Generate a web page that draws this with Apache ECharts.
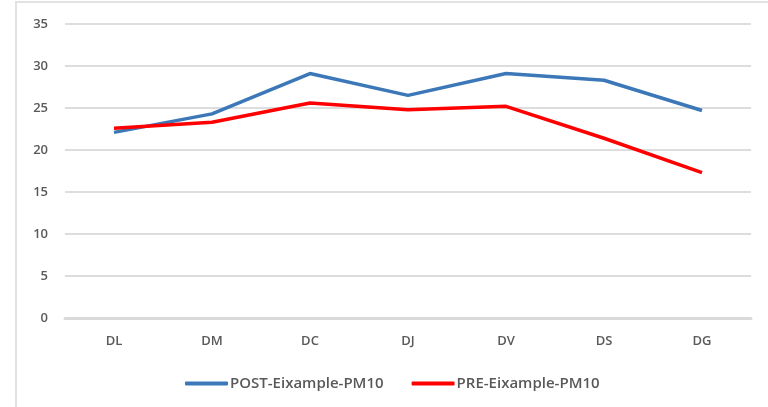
<!DOCTYPE html>
<html>
<head>
<meta charset="utf-8">
<script src="https://cdn.jsdelivr.net/npm/echarts@6/dist/echarts.min.js"></script>
<style>
  html, body { margin: 0; padding: 0; background: #fff; }
  #chart { width: 768px; height: 407px; }
</style>
</head>
<body>
<div id="chart"></div>
<script>
  var categories = ['DL', 'DM', 'DC', 'DJ', 'DV', 'DS', 'DG'];
  var postValues = [22.1, 24.3, 29.1, 26.5, 29.1, 28.3, 24.7];
  var preValues = [22.6, 23.3, 25.6, 24.8, 25.2, 21.4, 17.3];
  var seriesNames = ['POST-Eixample-PM10', 'PRE-Eixample-PM10'];

  var labelFont = {
    fontFamily: 'Open Sans',
    fontSize: 13,
    fontWeight: 600,
    color: '#595959'
  };

  var chart = echarts.init(document.getElementById('chart'));
  chart.setOption({
    animation: false,
    graphic: [{
      type: 'rect',
      shape: { x: 16, y: 2, width: 800, height: 450 },
      style: { fill: 'none', stroke: '#e2e2e2', lineWidth: 2 },
      silent: true
    }],
    grid: { left: 65, right: 17, top: 24, bottom: 89 },
    legend: {
      left: 180,
      top: 371,
      itemWidth: 43,
      itemHeight: 4,
      itemGap: 28,
      icon: 'roundRect',
      textStyle: { fontFamily: 'Open Sans', fontSize: 15, fontWeight: 600, color: '#595959', padding: [0, 0, 0, -3] },
      data: seriesNames
    },
    xAxis: {
      type: 'category',
      data: categories,
      boundaryGap: true,
      axisLine: { lineStyle: { color: '#d9d9d9', width: 3 } },
      axisTick: { show: false },
      axisLabel: Object.assign({ margin: 17 }, labelFont)
    },
    yAxis: {
      type: 'value',
      min: 0,
      max: 35,
      interval: 5,
      axisLine: { show: false },
      axisTick: { show: false },
      axisLabel: Object.assign({ margin: 17 }, labelFont),
      splitLine: { lineStyle: { color: '#dddddd', width: 2 } }
    },
    series: [
      {
        name: seriesNames[0],
        type: 'line',
        data: postValues,
        symbol: 'none',
        lineStyle: { color: '#3c78b8', width: 3.5 },
        itemStyle: { color: '#3c78b8' }
      },
      {
        name: seriesNames[1],
        type: 'line',
        data: preValues,
        symbol: 'none',
        lineStyle: { color: '#ff0000', width: 3.5 },
        itemStyle: { color: '#ff0000' }
      }
    ]
  });
</script>
</body>
</html>
